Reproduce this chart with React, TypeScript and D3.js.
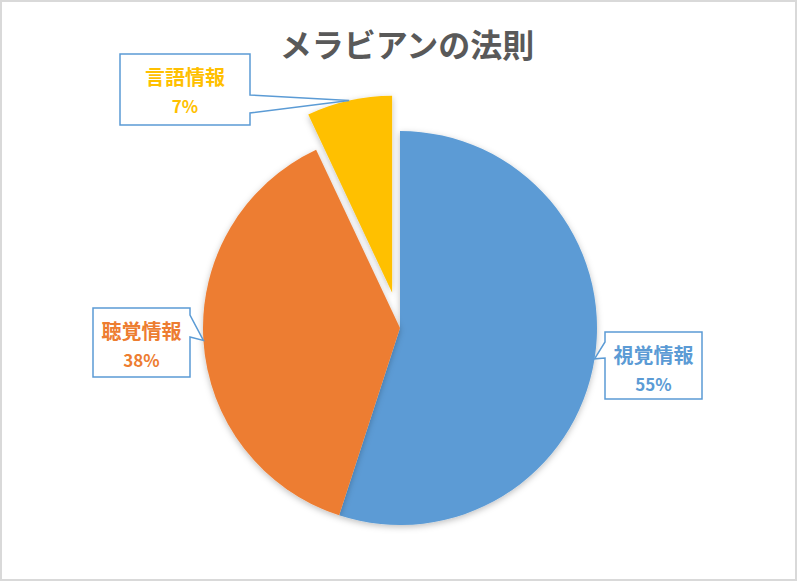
import React from "react";
import * as d3 from "d3";

const title = "メラビアンの法則";
const categories = ["視覚情報", "聴覚情報", "言語情報"];
const values = [55, 38, 7];
const colors = ["#5B9BD5", "#ED7D31", "#FFC000"];
const exploded = [0, 0, 36];

// callout boxes: x, y, w, h, side the pointer leaves from, pointer base (y range within box)
const callouts = [
  { x: 605, y: 332, w: 97, h: 67, side: "left", b0: 10, b1: 26 },
  { x: 93, y: 308, w: 97, h: 69, side: "right", b0: 7, b1: 29 },
  { x: 120, y: 54, w: 130, h: 71, side: "right", b0: 41, b1: 59 },
];

const W = 797;
const H = 581;
const cx = 400;
const cy = 328;
const R = 197;

export default function App() {
  const pie = d3.pie<number>().sort(null).startAngle(0).endAngle(2 * Math.PI);
  const arcs = pie(values);
  const arc = d3.arc<d3.PieArcDatum<number>>().innerRadius(0).outerRadius(R);

  const offset = (i: number) => {
    const a = (arcs[i].startAngle + arcs[i].endAngle) / 2;
    return [Math.sin(a) * exploded[i], -Math.cos(a) * exploded[i]];
  };

  return (
    <div style={{ position: "fixed", left: 0, top: 0 }}>
      <svg width={W} height={H} style={{ display: "block", fontFamily: "'Noto Sans CJK JP', sans-serif" }}>
        <defs>
          <filter id="shadow" x="-20%" y="-20%" width="140%" height="140%">
            <feDropShadow dx="0" dy="2" stdDeviation="3" floodColor="#000" floodOpacity="0.25" />
          </filter>
        </defs>
        <rect x={1} y={1} width={W - 2} height={H - 2} fill="#fff" stroke="#D9D9D9" strokeWidth={2} />
        <text x={407} y={57} textAnchor="middle" fontSize={32} fontWeight={600} fill="#595959">
          {title}
        </text>
        <g transform={`translate(${cx},${cy})`}>
          {arcs.map((d, i) => {
            const [ox, oy] = offset(i);
            return (
              <path
                key={categories[i]}
                d={arc(d) as string}
                transform={`translate(${ox},${oy})`}
                fill={colors[i]}
                filter="url(#shadow)"
              />
            );
          })}
        </g>
        {arcs.map((d, i) => {
          const c = callouts[i];
          const [ox, oy] = offset(i);
          const a = (d.startAngle + d.endAngle) / 2;
          const tx = cx + ox + Math.sin(a) * R;
          const ty = cy + oy - Math.cos(a) * R;
          const p = d3.path();
          const x0 = c.x, x1 = c.x + c.w, y0 = c.y, y1 = c.y + c.h;
          p.moveTo(x0, y0);
          p.lineTo(x1, y0);
          if (c.side === "right") {
            p.lineTo(x1, y0 + c.b0);
            p.lineTo(tx, ty);
            p.lineTo(x1, y0 + c.b1);
          }
          p.lineTo(x1, y1);
          p.lineTo(x0, y1);
          if (c.side === "left") {
            p.lineTo(x0, y0 + c.b1);
            p.lineTo(tx, ty);
            p.lineTo(x0, y0 + c.b0);
          }
          p.closePath();
          const mx = c.x + c.w / 2;
          return (
            <g key={"c" + i}>
              <path d={p.toString()} fill="#fff" stroke="#5B9BD5" strokeWidth={1.5} />
              <text x={mx} y={c.y + 31} textAnchor="middle" fontSize={20} fontWeight={700} fill={colors[i]}>
                {categories[i]}
              </text>
              <text x={mx} y={c.y + 59} textAnchor="middle" fontSize={17} fontWeight={700} fill={colors[i]}>
                {values[i] + "%"}
              </text>
            </g>
          );
        })}
      </svg>
    </div>
  );
}
